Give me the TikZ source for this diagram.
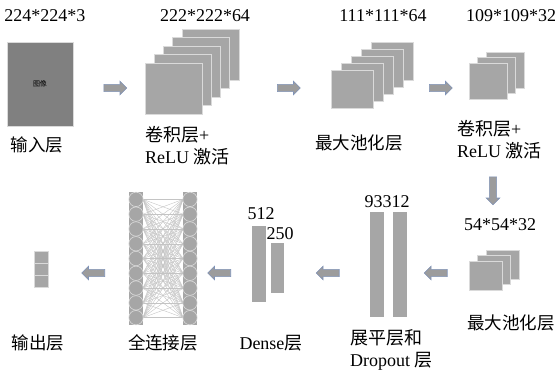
\documentclass[tikz,border=0pt]{standalone}
\usepackage{fontspec}
\setmainfont{Liberation Serif}
\newfontfamily\cjk{Noto Sans CJK SC}
\usetikzlibrary{shapes.arrows}
\definecolor{sqfill}{HTML}{A6A6A6}
\definecolor{sqedge}{HTML}{DADADA}
\definecolor{inpfill}{HTML}{808080}
\definecolor{arrfill}{HTML}{9C9C9C}
\definecolor{arredge}{HTML}{7F93B8}
\definecolor{fcline}{HTML}{C4C4C4}
\tikzset{
  lbl/.style={font=\fontsize{18}{22}\selectfont, inner sep=0pt},
  clbl/.style={font=\fontsize{17.5}{22}\selectfont\cjk, inner sep=0pt},
  sq/.style={fill=sqfill, draw=sqedge, line width=0.8pt},
  blockarrow/.style={single arrow, fill=arrfill, draw=arredge, line width=0.6pt,
    inner sep=3.3pt, single arrow head extend=3.2pt, single arrow head indent=0pt,
    minimum height=23pt},
}
\begin{document}
\begin{tikzpicture}[x=1pt,y=-1pt]
\useasboundingbox (0,0) rectangle (558,375);
% --- top row labels
\node[lbl] (d1) at (45,16) {224*224*3};
\node[lbl] (d2) at (205,16) {222*222*64};
\node[lbl] (d3) at (383,16) {111*111*64};
\node[lbl] (d4) at (511,16) {109*109*32};
% --- input
\node[fill=inpfill, draw=sqedge, line width=0.8pt, minimum width=66pt, minimum height=84pt, inner sep=0pt,
  font=\fontsize{7}{8}\selectfont\cjk] (inp) at (40,84) {图像};
\node[clbl] (tin) at (37,145) {输入层};
% --- stack 1 (5 maps)
\foreach \i in {4,3,2,1,0}{
  \draw[sq] ({145+9.25*\i},{63-8.5*\i}) rectangle ++(57,51);
}
\coordinate (s1) at (173,89);
\node[lbl, anchor=west, align=left] (t1) at (145,146) {{\cjk 卷积层}+\\ReLU {\cjk 激活}};
% --- stack 2 (5 maps)
\foreach \i in {4,3,2,1,0}{
  \draw[sq] ({331+10*\i},{70-6.8*\i}) rectangle ++(42,38);
}
\node[clbl] (t2) at (359,143) {最大池化层};
% --- stack 3 (3 maps)
\foreach \i in {2,1,0}{
  \draw[sq] ({469+8.5*\i},{63-5.5*\i}) rectangle ++(38,36);
}
\node[lbl, anchor=west, align=left] (t3) at (457,140) {{\cjk 卷积层}+\\ReLU {\cjk 激活}};
% --- arrows top row
\node[blockarrow] (a1) at (113.5,88) {};
\node[blockarrow] (a2) at (287,88) {};
\node[blockarrow] (a3) at (439,88) {};
\node[blockarrow, shape border rotate=270, minimum height=28pt] (a4) at (493,189) {};
% --- stack 4
\node[lbl] (d5) at (500,225) {54*54*32};
\foreach \i in {2,1,0}{
  \draw[sq] ({469+8.5*\i},{261-5.5*\i}) rectangle ++(33,29);
}
\node[clbl] (t4) at (511,323) {最大池化层};
\node[blockarrow, shape border rotate=180] (a5) at (437.5,273) {};
% --- flatten + dropout
\node[lbl] (d6) at (387,202) {93312};
\node[fill=sqfill, minimum width=14pt, minimum height=105pt, inner sep=0pt] (fl) at (377,264.5) {};
\node[fill=sqfill, minimum width=14pt, minimum height=105pt, inner sep=0pt] (dr) at (400,264.5) {};
\node[lbl, anchor=west, align=left] (t5) at (350,350) {{\cjk 展平层和}\\Dropout {\cjk 层}};
\node[blockarrow, shape border rotate=180] (a6) at (329.5,273) {};
% --- dense
\node[lbl] (d7) at (261,214) {512};
\node[lbl] (d8) at (280,234) {250};
\node[fill=sqfill, minimum width=14pt, minimum height=76pt, inner sep=0pt] (ds1) at (259,264) {};
\node[fill=sqfill, minimum width=13pt, minimum height=50pt, inner sep=0pt] (ds2) at (277.5,268) {};
\node[lbl] (t6) at (271,343) {Dense{\cjk 层}};
\node[blockarrow, shape border rotate=180] (a7) at (221,273) {};
% --- fully connected
\fill[sqfill] (129,192) rectangle (143,325);
\fill[sqfill] (183,192) rectangle (197,325);
\foreach \i in {0,...,8}{
  \foreach \j in {0,...,8}{
    \draw[fcline, line width=0.4pt] (143,{192+7.4+14.78*\i}) -- (183,{192+7.4+14.78*\j});
  }
  \draw[sqedge, line width=0.6pt] (136,{192+7.4+14.78*\i}) circle (7.2);
  \draw[sqedge, line width=0.6pt] (190,{192+7.4+14.78*\i}) circle (7.2);
}
\node[clbl] (t7) at (163,343) {全连接层};
\node[blockarrow, shape border rotate=180] (a8) at (95,273) {};
% --- output
\foreach \i in {0,1,2}{
  \draw[fill=sqfill, draw=sqedge, line width=0.6pt] (34,{251+12*\i}) rectangle ++(14,12);
}
\node[clbl] (t8) at (38,343) {输出层};
\end{tikzpicture}
\end{document}
